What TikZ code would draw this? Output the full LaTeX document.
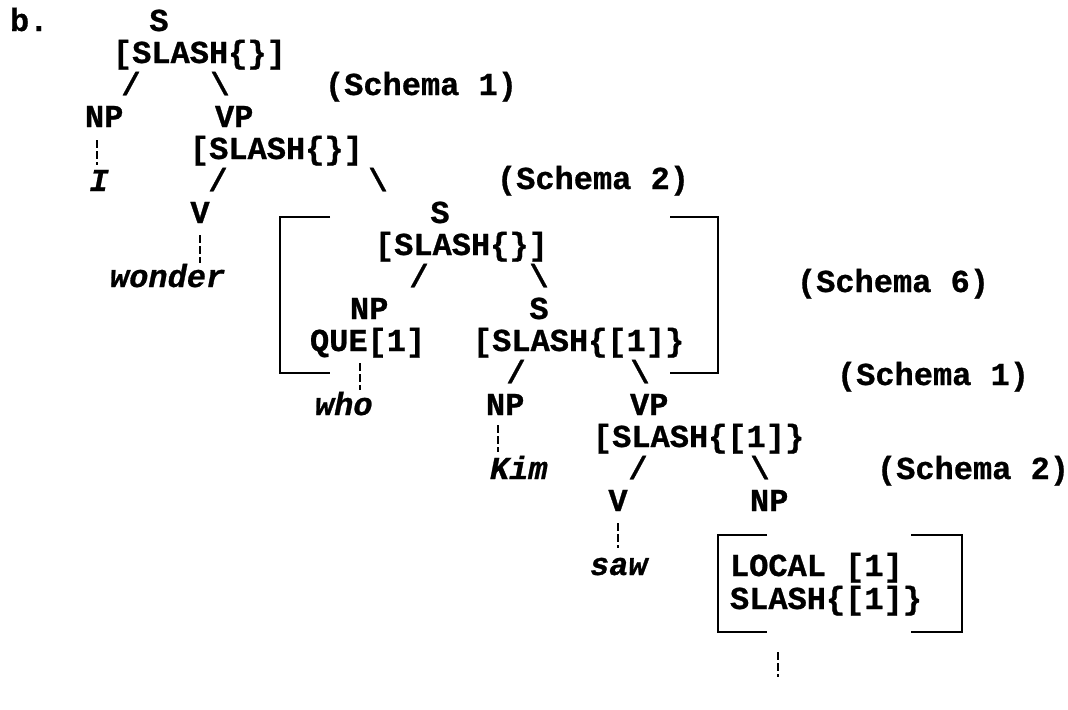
\documentclass[tikz,border=0pt]{standalone}
\usepackage{fontspec}
\setmonofont{Liberation Mono}[BoldFeatures={FakeBold=0.8},BoldItalicFeatures={FakeBold=0.8}]
\usetikzlibrary{calc}
\begin{document}
\begin{tikzpicture}[x=0.5pt,y=-0.5pt,
  lbl/.style={inner sep=0pt,outer sep=0pt,anchor=base west,font=\ttfamily\bfseries\fontsize{16}{16}\selectfont},
  itl/.style={lbl,font=\ttfamily\bfseries\itshape\fontsize{16}{16}\selectfont},
  sym/.style={lbl,anchor=base},
  isym/.style={itl,anchor=base},
  dashln/.style={line width=1.2pt,dash pattern=on 4pt off 1.5pt},
  brk/.style={line width=1.4pt,line join=miter}]
\fill[white] (0,0) rectangle (1068,709);
\useasboundingbox (0,0) rectangle (1068,709);
% line 1-3
\node[lbl] (b) at (10,31) {b.};
\node[sym] (S1) at (159,31) {S};
\node[lbl] (F1) at (113,63) {[SLASH\{\}]};
\node[sym] (s1l) at (131,95) {/};
\node[sym] (s1r) at (220,95) {\textbackslash};
\node[lbl] (sch1) at (325,95) {(Schema 1)};
% line 4-9
\node[lbl] (NP1) at (85,127) {NP};
\node[lbl] (VP1) at (215,127) {VP};
\node[lbl] (F2) at (190,159) {[SLASH\{\}]};
\node[isym] (I) at (99,191) {I};
\node[sym] (s2l) at (218,191) {/};
\node[sym] (s2r) at (378,191) {\textbackslash};
\node[lbl] (sch2) at (497,189) {(Schema 2)};
\node[sym] (V1) at (200,223) {V};
\node[sym] (S2) at (440,223) {S};
\node[lbl] (F3) at (375,255) {[SLASH\{\}]};
\node[itl] (wonder) at (110,287) {wonder};
\node[sym] (s3l) at (419,287) {/};
\node[sym] (s3r) at (539,287) {\textbackslash};
\node[lbl] (sch6) at (797,292) {(Schema 6)};
% line 10-13
\node[lbl] (NP2) at (350,319) {NP};
\node[sym] (S3) at (539,319) {S};
\node[lbl] (QUE) at (310,351) {QUE[1]};
\node[lbl] (F4) at (473,351) {[SLASH\{[1]\}};
\node[sym] (s4l) at (516,383) {/};
\node[sym] (s4r) at (640,383) {\textbackslash};
\node[lbl] (sch1b) at (837,385) {(Schema 1)};
\node[itl] (who) at (315,415) {who};
\node[lbl] (NP3) at (486,415) {NP};
\node[lbl] (VP2) at (630,415) {VP};
% line 14-19
\node[lbl] (F5) at (593,447) {[SLASH\{[1]\}};
\node[itl] (Kim) at (490,479) {Kim};
\node[sym] (s5l) at (638,479) {/};
\node[sym] (s5r) at (760,479) {\textbackslash};
\node[lbl] (sch2b) at (877,479) {(Schema 2)};
\node[sym] (V2) at (618,511) {V};
\node[lbl] (NP4) at (750,511) {NP};
\node[itl] (saw) at (590,575) {saw};
\node[lbl] (LOC) at (730,576) {LOCAL [1]};
\node[lbl] (SLA) at (730,609) {SLASH\{[1]\}};
\coordinate (gapend) at (778,677);
% dashed connectors
\draw[dashln] ($(I.base |- NP1.base)+(-2,13)$) -- ($(I.base)+(-2,-26)$);
\draw[dashln] ($(V1.base)+(0,12)$) -- ($(V1.base |- wonder.base)+(0,-24)$);
\draw[dashln] ($(QUE.base west)+(50,12)$) -- ($(QUE.base west |- who.base)+(50,-25)$);
\draw[dashln] ($(NP3.base west)+(12,10)$) -- ($(NP3.base west |- Kim.base)+(12,-27)$);
\draw[dashln] ($(V2.base)+(0,12)$) -- ($(V2.base |- saw.base)+(0,-27)$);
\draw[dashln] ($(SLA.base west)+(48,43)$) -- (gapend);
% brackets
\draw[brk] (330,217) -- (280,217) -- (280,373) -- (330,373);
\draw[brk] (670,217) -- (718,217) -- (718,373) -- (670,373);
\draw[brk] (767,535) -- (718,535) -- (718,632) -- (767,632);
\draw[brk] (911,535) -- (962,535) -- (962,632) -- (911,632);
\end{tikzpicture}
\end{document}
